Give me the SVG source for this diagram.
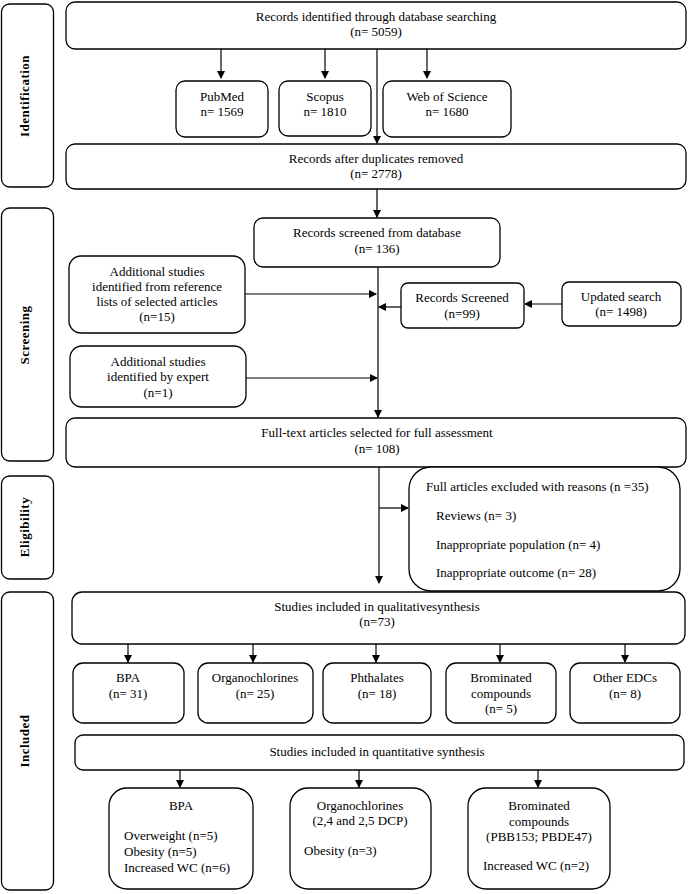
<svg xmlns="http://www.w3.org/2000/svg" width="689" height="894" viewBox="0 0 689 894">
<defs>
<marker id="ah" markerWidth="8" markerHeight="8" refX="7" refY="4" orient="auto" markerUnits="userSpaceOnUse">
<path d="M0,0 L8,4 L0,8 Z" fill="#000"/>
</marker>
<style>
.b{fill:#fff;stroke:#000;stroke-width:1.3}
.t{font-family:"Liberation Serif","Times New Roman",serif;font-size:13px;fill:#000}
.m{text-anchor:middle}
.s{font-family:"Liberation Serif","Times New Roman",serif;font-size:13px;font-weight:bold;fill:#000;text-anchor:middle;letter-spacing:0.5px}
.c{stroke:#000;stroke-width:1.2;fill:none}
.a{marker-end:url(#ah)}
</style>
</defs>
<rect width="689" height="894" fill="#fff"/>

<g id="stages">
<rect class="b" x="1.5" y="4" width="52" height="183" rx="8"/>
<text class="s" transform="translate(29,96) rotate(-90)">Identification</text>
<rect class="b" x="1.5" y="208" width="52" height="253" rx="8"/>
<text class="s" transform="translate(29,335) rotate(-90)">Screening</text>
<rect class="b" x="1.5" y="476" width="52" height="103" rx="8"/>
<text class="s" transform="translate(29,527) rotate(-90)">Eligibility</text>
<rect class="b" x="1.5" y="592" width="52" height="298" rx="8"/>
<text class="s" transform="translate(29,741) rotate(-90)">Included</text>
</g>

<g id="connectors">
<line class="c a" x1="221" y1="49" x2="221" y2="78"/>
<line class="c a" x1="325" y1="49" x2="325" y2="78"/>
<line class="c a" x1="427" y1="49" x2="427" y2="78"/>
<line class="c a" x1="377" y1="49" x2="377" y2="143"/>
<line class="c a" x1="377" y1="189" x2="377" y2="217"/>
<line class="c a" x1="378" y1="267" x2="378" y2="417"/>
<line class="c a" x1="245" y1="294" x2="376" y2="294"/>
<line class="c a" x1="401" y1="307" x2="379" y2="307"/>
<line class="c a" x1="562" y1="304" x2="525" y2="304"/>
<line class="c a" x1="246" y1="378" x2="377" y2="378"/>
<line class="c a" x1="379" y1="467" x2="379" y2="583"/>
<line class="c a" x1="379" y1="508" x2="408" y2="508"/>
<line class="c a" x1="128" y1="644" x2="128" y2="662"/>
<line class="c a" x1="253" y1="644" x2="253" y2="662"/>
<line class="c a" x1="376" y1="644" x2="376" y2="662"/>
<line class="c a" x1="500" y1="644" x2="500" y2="662"/>
<line class="c a" x1="625" y1="644" x2="625" y2="662"/>
<line class="c a" x1="180" y1="770" x2="180" y2="787"/>
<line class="c a" x1="359" y1="770" x2="359" y2="787"/>
<line class="c a" x1="538" y1="770" x2="538" y2="787"/>
</g>

<g id="n-records">
<rect class="b" x="66" y="2" width="620" height="47" rx="9"/>
<text class="t m" x="376" y="21">Records identified through database searching</text>
<text class="t m" x="376" y="36">(n= 5059)</text>
</g>
<g id="n-pubmed">
<rect class="b" x="176" y="81" width="92" height="56" rx="9"/>
<text class="t m" x="222" y="101">PubMed</text>
<text class="t m" x="222" y="116">n= 1569</text>
</g>
<g id="n-scopus">
<rect class="b" x="279" y="81" width="92" height="55" rx="9"/>
<text class="t m" x="325" y="101">Scopus</text>
<text class="t m" x="325" y="116">n= 1810</text>
</g>
<g id="n-wos">
<rect class="b" x="383" y="81" width="128" height="56" rx="9"/>
<text class="t m" x="447" y="101">Web of Science</text>
<text class="t m" x="447" y="116">n= 1680</text>
</g>
<g id="n-dedup">
<rect class="b" x="66" y="144" width="620" height="45" rx="9"/>
<text class="t m" x="376" y="163">Records after duplicates removed</text>
<text class="t m" x="376" y="178">(n= 2778)</text>
</g>
<g id="n-screened-db">
<rect class="b" x="254" y="218" width="246" height="49" rx="9"/>
<text class="t m" x="377" y="237">Records screened from database</text>
<text class="t m" x="377" y="253">(n= 136)</text>
</g>
<g id="n-additional-ref">
<rect class="b" x="69" y="256" width="176" height="77" rx="12"/>
<text class="t m" x="157" y="276">Additional studies</text>
<text class="t m" x="157" y="291">identified from reference</text>
<text class="t m" x="157" y="306">lists of selected articles</text>
<text class="t m" x="157" y="321">(n=15)</text>
</g>
<g id="n-records-screened">
<rect class="b" x="401" y="283" width="123" height="45" rx="7"/>
<text class="t m" x="462" y="302">Records Screened</text>
<text class="t m" x="462" y="318">(n=99)</text>
</g>
<g id="n-updated">
<rect class="b" x="562" y="282" width="119" height="44" rx="7"/>
<text class="t m" x="621" y="301">Updated search</text>
<text class="t m" x="621" y="316">(n= 1498)</text>
</g>
<g id="n-additional-expert">
<rect class="b" x="70" y="346" width="176" height="61" rx="12"/>
<text class="t m" x="158" y="366">Additional studies</text>
<text class="t m" x="158" y="381">identified by expert</text>
<text class="t m" x="158" y="397">(n=1)</text>
</g>
<g id="n-fulltext">
<rect class="b" x="66" y="418" width="620" height="49" rx="9"/>
<text class="t m" x="377" y="437">Full-text articles selected for full assessment</text>
<text class="t m" x="377" y="453">(n= 108)</text>
</g>
<g id="n-excluded">
<rect class="b" x="409" y="467" width="271" height="124" rx="22"/>
<text class="t" x="426" y="491">Full articles excluded with reasons (n =35)</text>
<text class="t" x="436" y="520">Reviews (n= 3)</text>
<text class="t" x="436" y="549">Inappropriate population (n= 4)</text>
<text class="t" x="436" y="577">Inappropriate outcome (n= 28)</text>
</g>
<g id="n-qualitative">
<rect class="b" x="72" y="592" width="613" height="52" rx="10"/>
<text class="t m" x="377" y="611">Studies included in qualitativesynthesis</text>
<text class="t m" x="377" y="626">(n=73)</text>
</g>
<g id="n-bpa">
<rect class="b" x="73" y="663" width="111" height="60" rx="10"/>
<text class="t m" x="128" y="682">BPA</text>
<text class="t m" x="128" y="698">(n= 31)</text>
</g>
<g id="n-organochlorines">
<rect class="b" x="198" y="663" width="115" height="60" rx="10"/>
<text class="t m" x="255" y="682">Organochlorines</text>
<text class="t m" x="255" y="698">(n= 25)</text>
</g>
<g id="n-phthalates">
<rect class="b" x="323" y="663" width="108" height="60" rx="10"/>
<text class="t m" x="377" y="682">Phthalates</text>
<text class="t m" x="377" y="698">(n= 18)</text>
</g>
<g id="n-brominated">
<rect class="b" x="446" y="663" width="110" height="60" rx="10"/>
<text class="t m" x="501" y="682">Brominated</text>
<text class="t m" x="501" y="698">compounds</text>
<text class="t m" x="501" y="713">(n= 5)</text>
</g>
<g id="n-other">
<rect class="b" x="570" y="663" width="110" height="60" rx="10"/>
<text class="t m" x="625" y="682">Other EDCs</text>
<text class="t m" x="625" y="698">(n= 8)</text>
</g>
<g id="n-quantitative">
<rect class="b" x="75" y="735" width="609" height="35" rx="8"/>
<text class="t m" x="377" y="756">Studies included in quantitative synthesis</text>
</g>
<g id="n-q-bpa">
<rect class="b" x="109" y="788" width="144" height="101" rx="18"/>
<text class="t m" x="181" y="810">BPA</text>
<text class="t" x="124" y="840">Overweight (n=5)</text>
<text class="t" x="124" y="856">Obesity (n=5)</text>
<text class="t" x="124" y="872">Increased WC (n=6)</text>
</g>
<g id="n-q-organochlorines">
<rect class="b" x="290" y="788" width="141" height="101" rx="18"/>
<text class="t m" x="360" y="810">Organochlorines</text>
<text class="t m" x="360" y="825">(2,4 and 2,5 DCP)</text>
<text class="t" x="304" y="855">Obesity (n=3)</text>
</g>
<g id="n-q-brominated">
<rect class="b" x="468" y="788" width="142" height="101" rx="18"/>
<text class="t m" x="539" y="810">Brominated</text>
<text class="t m" x="539" y="826">compounds</text>
<text class="t m" x="539" y="841">(PBB153; PBDE47)</text>
<text class="t" x="483" y="870">Increased WC (n=2)</text>
</g>
</svg>
